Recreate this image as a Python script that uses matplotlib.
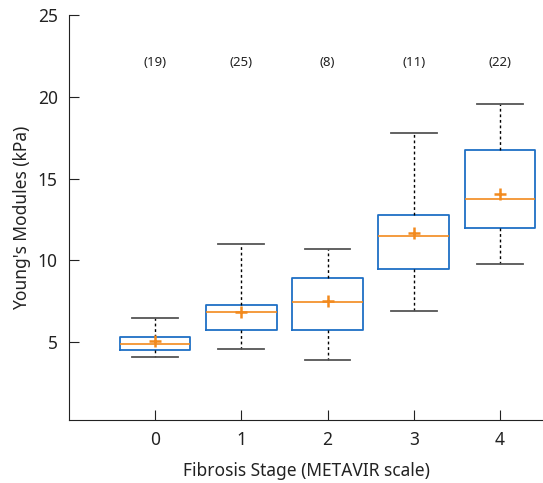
import matplotlib
matplotlib.use("Agg")
import matplotlib.pyplot as plt

stages = [0, 1, 2, 3, 4]
counts = [19, 25, 8, 11, 22]
whisker_low = [4.10, 4.55, 3.90, 6.91, 9.75]
q1 = [4.53, 5.71, 5.75, 9.48, 11.97]
median = [4.90, 6.83, 7.45, 11.50, 13.78]
q3 = [5.28, 7.28, 8.90, 12.77, 16.74]
whisker_high = [6.49, 11.02, 10.70, 17.82, 19.60]
means = [5.06, 6.85, 7.50, 11.68, 14.05]

plt.rcParams['font.family'] = ['Noto Sans', 'DejaVu Sans']

fig = plt.figure(figsize=(5.43, 4.83), dpi=100)
ax = fig.add_axes([0.127, 0.130, 0.873, 0.838])

stats = []
for i in range(len(stages)):
    stats.append(dict(med=median[i], q1=q1[i], q3=q3[i],
                      whislo=whisker_low[i], whishi=whisker_high[i],
                      mean=means[i], label=str(stages[i])))

ax.bxp(stats, positions=stages, widths=0.82, showmeans=True, showfliers=False,
       boxprops=dict(color='#1f6fc5', linewidth=1.3),
       medianprops=dict(color='#f28a1e', linewidth=1.2),
       whiskerprops=dict(color='black', linestyle=(0, (2, 2)), linewidth=1.0),
       capprops=dict(color='#555555', linewidth=1.3),
       capwidths=0.53,
       meanprops=dict(marker='+', markeredgecolor='#f28a1e', markersize=8, markeredgewidth=1.8))

for s, c in zip(stages, counts):
    ax.text(s, 22.1, f"({c})", ha='center', va='center', fontsize=9.5, color='#222222')

ax.set_xlim(-1, 4.5)
ax.set_ylim(0.2, 25)
ax.set_xticks(stages)
ax.set_xticklabels([str(s) for s in stages])
ax.set_yticks([5, 10, 15, 20, 25])
ax.spines['top'].set_visible(False)
ax.spines['right'].set_visible(False)
for sp in ['left', 'bottom']:
    ax.spines[sp].set_color('#222222')
ax.tick_params(direction='in', length=7, labelsize=12.5, colors='#222222', pad=8)
ax.set_xlabel("Fibrosis Stage (METAVIR scale)", fontsize=12.5, color='#222222', labelpad=9)
ax.set_ylabel("Young's Modules (kPa)", fontsize=12.5, color='#222222', labelpad=5)

fig.savefig("out.png", dpi=100)
